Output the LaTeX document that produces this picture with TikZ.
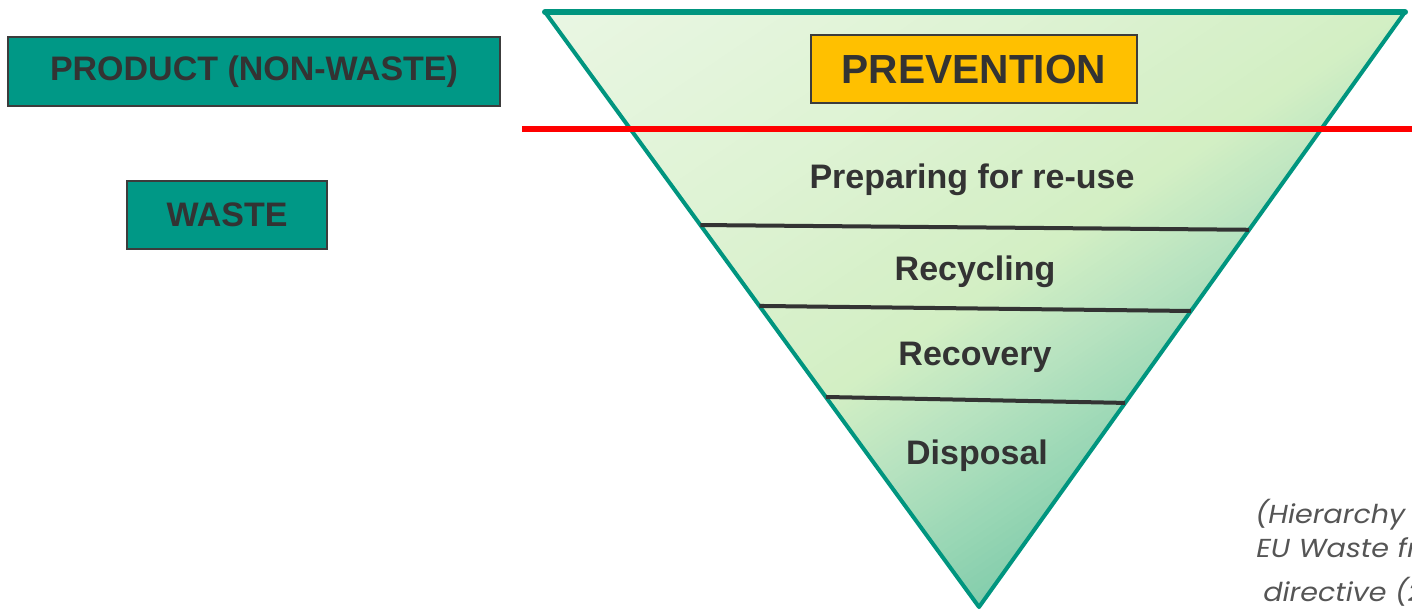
\documentclass[tikz,border=0pt]{standalone}
\usepackage{fontspec}
\setmainfont{Liberation Sans}
\newfontfamily\capfont[FakeStretch=1.1]{Poppins}
\usetikzlibrary{calc}
\definecolor{tealbox}{HTML}{009886}
\definecolor{tealedge}{HTML}{00957F}
\definecolor{boxedge}{HTML}{3C3C3C}
\definecolor{amber}{HTML}{FFC000}
\definecolor{txt}{HTML}{333333}
\definecolor{captxt}{HTML}{555555}
\definecolor{ga}{HTML}{ECF7E7}
\definecolor{gb}{HTML}{DFF3D5}
\definecolor{gc}{HTML}{D3EFC4}
\definecolor{gd}{HTML}{B8E3C0}
\definecolor{ge}{HTML}{9CD8B6}
\definecolor{gf}{HTML}{74C6A6}
\begin{document}
\begin{tikzpicture}[x=0.75pt,y=-0.75pt,
  labelbox/.style={draw=boxedge,line width=1.1pt,fill=tealbox,inner sep=0pt,
    text=txt,font=\bfseries\fontsize{25.5}{28}\selectfont},
  prevbox/.style={draw=boxedge,line width=1.1pt,fill=amber,inner sep=0pt,
    text=txt,font=\bfseries\fontsize{30.5}{33}\selectfont},
  levellabel/.style={text=txt,font=\bfseries\fontsize{25.5}{28}\selectfont,anchor=base,inner sep=0pt},
  divline/.style={draw=txt,line width=3pt},
  caption/.style={text=captxt,font=\capfont\itshape\fontsize{19.5}{22}\selectfont,anchor=base west,inner sep=0pt}]
\useasboundingbox (0,0) rectangle (1412,612);
\begin{scope}
\clip (0,0) rectangle (1412,612);
% triangle
\coordinate (tl) at (545,12);
\coordinate (tr) at (1405,12);
\coordinate (ap) at (979,607);
\begin{scope}
  \clip (tl) -- (tr) -- (ap) -- cycle;
  \begin{scope}[rotate=-56]
    \foreach \pa/\pb/\ca/\cb in {250/560/ga/gb, 560/795/gb/gc, 795/885/gc/gd, 885/971/gd/ge, 971/1100/ge/gf}{
      \foreach \k in {0,...,19}{
        \pgfmathsetmacro\s{\pa+(\pb-\pa)*\k/20}
        \pgfmathsetmacro\e{\pa+(\pb-\pa)*(\k+1)/20+1.5}
        \pgfmathsetmacro\m{100-100*(\k+0.5)/20}
        \fill[\ca!\m!\cb] (\s,-1250) rectangle (\e,-350);
      }
    }
  \end{scope}
\end{scope}
\draw[tealedge,line width=3pt,line join=round] (tr) -- (ap) -- (tl);
\draw[tealedge,line width=4.5pt,line cap=round] (tl) -- (tr);
% division lines
\coordinate (l1) at ($(tl)!0.358!(ap)$);
\coordinate (r1) at ($(tr)!0.366!(ap)$);
\coordinate (l2) at ($(tl)!0.494!(ap)$);
\coordinate (r2) at ($(tr)!0.5025!(ap)$);
\coordinate (l3) at ($(tl)!0.647!(ap)$);
\coordinate (r3) at ($(tr)!0.657!(ap)$);
\draw[divline] (l1) -- (r1);
\draw[divline] (l2) -- (r2);
\draw[divline] (l3) -- (r3);
% red line
\coordinate (redA) at (522,129);
\coordinate (redB) at (1420,129);
\draw[red,line width=3.8pt] (redA) -- (redB);
% boxes
\node[labelbox,minimum width=369pt,minimum height=51.75pt] (product) at (254,71.5) {PRODUCT (NON-WASTE)};
\node[labelbox,minimum width=150pt,minimum height=51pt] (waste) at (227,215) {WASTE};
\node[prevbox,minimum width=244.5pt,minimum height=51pt] (prevention) at (974,69) {PREVENTION};
% level labels
\node[levellabel] (reuse) at (972,188) {Preparing for re-use};
\node[levellabel] (recycling) at (975,280) {Recycling};
\node[levellabel] (recovery) at (975,365) {Recovery};
\node[levellabel] (disposal) at (977,464) {Disposal};
% caption
\node[caption] (cap1) at (1255,523) {(Hierarchy of};
\node[caption] (cap2) at (1256,557) {EU Waste framework};
\node[caption] (cap3) at (1263,601) {directive (2008)};
\end{scope}
\end{tikzpicture}
\end{document}
